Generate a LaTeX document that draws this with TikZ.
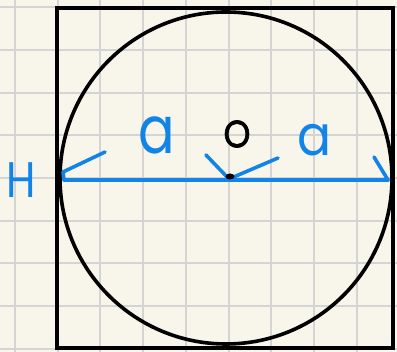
\documentclass[tikz,border=0pt]{standalone}
\usepackage{fontspec}
\setmainfont{Poppins}
\newfontfamily\heavyp[FakeBold=2]{Poppins}
\definecolor{paper}{RGB}{248,246,234}
\definecolor{gridc}{RGB}{212,212,212}
\definecolor{pen}{RGB}{18,132,232}
\begin{document}
\begin{tikzpicture}[x=1pt,y=-1pt,
  gridline/.style={draw=gridc,line width=2pt},
  ink/.style={draw=black,line width=3.6pt},
  bluepen/.style={draw=pen,line width=3.6pt,line cap=round,line join=round},
  bluetxt/.style={text=pen,inner sep=0pt,anchor=center},
  blacktxt/.style={text=black,inner sep=0pt,anchor=center}]
\fill[paper] (0,0) rectangle (397,352);
\useasboundingbox (0,0) rectangle (397,352);
\foreach \k in {0,...,9}{
  \draw[gridline] ({15+42.7*\k},0) -- ({15+42.7*\k},352);
  \draw[gridline] (0,{7.3+42.7*\k}) -- (397,{7.3+42.7*\k});
}
\draw[ink] (57,8) rectangle (393,348);
\coordinate (O) at (226,178);
\draw[ink] (O) circle (166);
% diameter
\coordinate (L) at (64,180);
\coordinate (R) at (388,180);
\draw[bluepen] (L) -- (R);
\coordinate (l1) at (105,152);
\coordinate (l2) at (63,172);
\draw[bluepen] (l1) -- (l2) -- (L);
\coordinate (m1) at (206,155);
\coordinate (m0) at (229,179);
\coordinate (m2) at (278,158);
\draw[bluepen] (m1) -- (m0) -- (m2);
\coordinate (r1) at (374,157);
\draw[bluepen] (r1) -- (R);
\fill[black] (230,176.5) ellipse (4.5 and 3);
% labels
\node[bluetxt,font=\fontsize{66}{66}\selectfont,xscale=0.82] (a1) at (157,135) {a};
\node[bluetxt,font=\fontsize{56}{56}\selectfont,xscale=0.9] (a2) at (315,140) {a};
\node[blacktxt,font=\heavyp\fontsize{38}{38}\selectfont,xscale=0.9] (o) at (237,134) {O};
\node[bluetxt,font=\fontsize{50}{50}\selectfont,xscale=0.85] (h) at (21,180) {H};
\end{tikzpicture}
\end{document}
